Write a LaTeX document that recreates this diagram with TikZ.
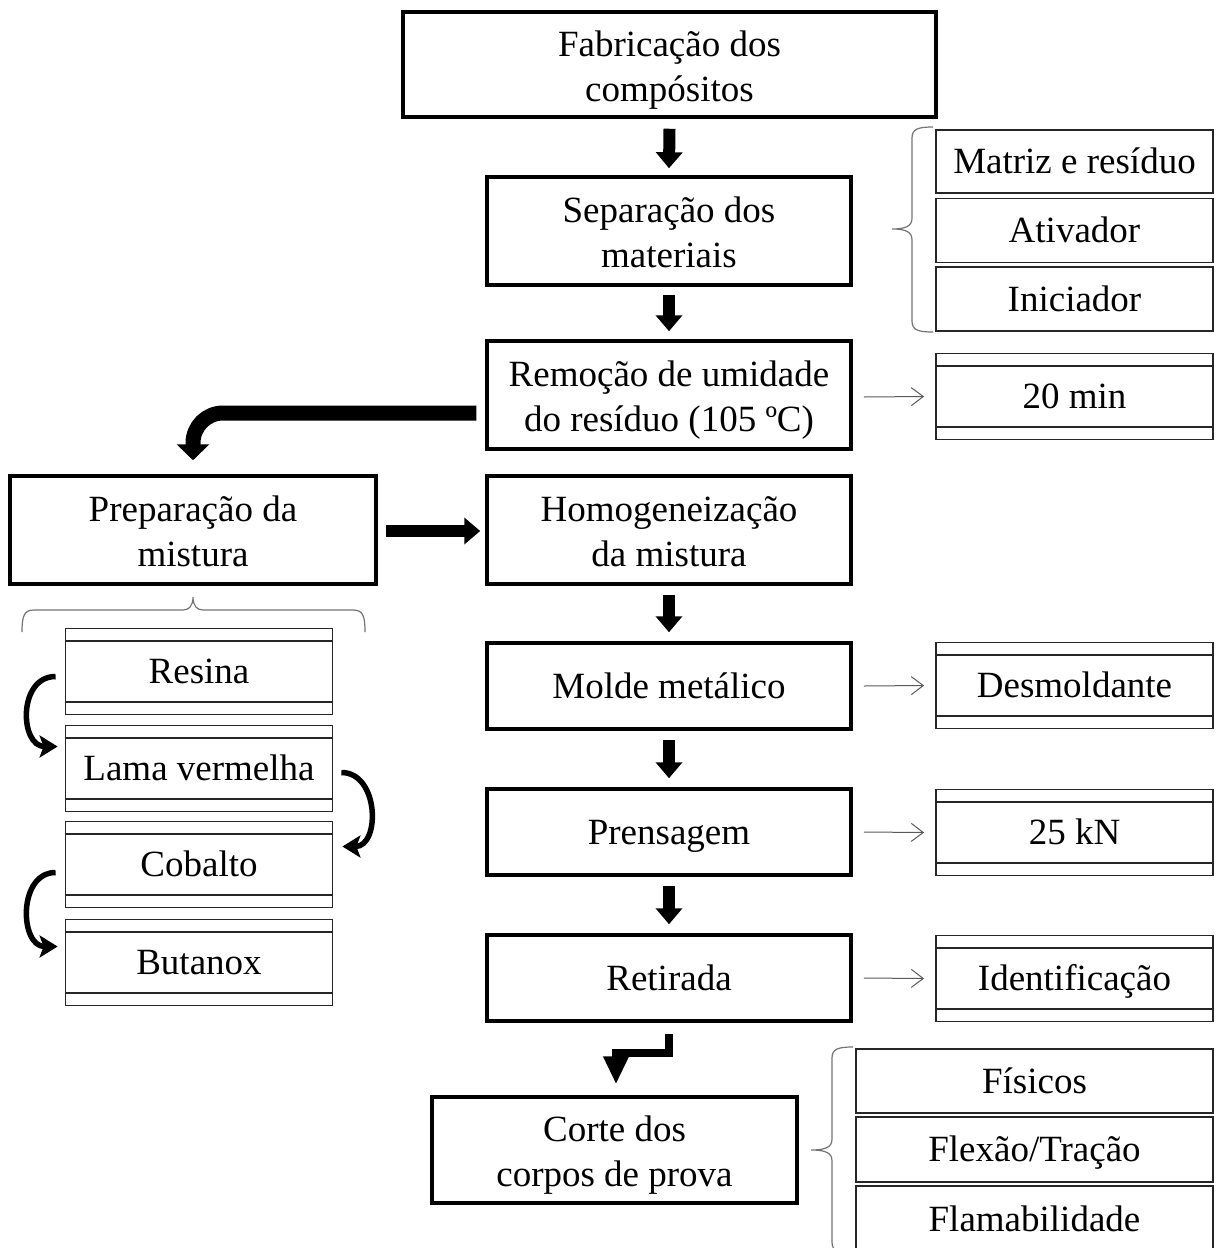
\documentclass[tikz,border=0pt]{standalone}
\usepackage{fontspec}
\setmainfont{Liberation Serif}
\usetikzlibrary{arrows.meta,calc}
\begin{document}
\begin{tikzpicture}[x=1pt,y=-1pt,
  txt/.style={font=\fontsize{37}{45}\selectfont},
  one/.style={text height=30pt,text depth=6pt},
  two/.style={text height=77pt,text depth=4pt},
  main/.style={txt,draw,line width=3.5pt,inner sep=0pt,align=center,minimum width=364pt,minimum height=108pt},
  item/.style={txt,one,draw=black!85,line width=1.8pt,inner sep=0pt,align=center,minimum width=277pt,minimum height=64pt},
  band/.style={txt,one,draw=black!85,line width=1.8pt,inner sep=0pt,align=center,minimum width=277pt,minimum height=86pt,
    path picture={
      \draw[black!85,line width=1.8pt] ([yshift=-12.5pt]path picture bounding box.north west) -- ([yshift=-12.5pt]path picture bounding box.north east);
      \draw[black!85,line width=1.8pt] ([yshift=12.5pt]path picture bounding box.south west) -- ([yshift=12.5pt]path picture bounding box.south east);
    }},
  blk/.style={line width=12pt,-{Triangle[width=26pt,length=16pt]}},
  thin/.style={draw=black!65,line width=1pt,-{Straight Barb[length=12pt,width=18pt]}},
  curv/.style={line width=5.5pt,-{Stealth[length=18pt,width=22pt,inset=4pt]}},
  brc/.style={draw=black!55,line width=1.2pt}
]
\useasboundingbox (0,0) rectangle (1216,1248);

% main column
\node[main,two,minimum width=533pt,minimum height=105pt] (fab) at (669.5,64.5) {Fabricação dos\\compósitos};
\node[main,two] (sep) at (669,231) {Separação dos\\materiais};
\node[main,two] (rem) at (669,395) {Remoção de umidade\\do resíduo (105 ºC)};
\node[main,two] (hom) at (669,530) {Homogeneização\\da mistura};
\node[main,one,minimum height=86pt] (mol) at (669,686) {Molde metálico};
\node[main,one,minimum height=86pt] (pre) at (669,832) {Prensagem};
\node[main,one,minimum height=86pt] (ret) at (669,978) {Retirada};
\node[main,two,minimum width=365pt,minimum height=106pt] (cor) at (614.5,1150) {Corte dos\\corpos de prova};
\node[main,two,minimum width=366pt] (prep) at (193,530) {Preparação da\\mistura};

% right items
\node[item,minimum height=63pt] (mat) at (1074.5,161.5) {Matriz e resíduo};
\node[item,minimum height=64pt] (ati) at (1074.5,230.5) {Ativador};
\node[item,minimum height=64pt] (ini) at (1074.5,299) {Iniciador};
\node[band] (min) at (1074.5,396.5) {20 min};
\node[band] (des) at (1074.5,685.5) {Desmoldante};
\node[band] (kn) at (1074.5,832.5) {25 kN};
\node[band] (ide) at (1074.5,978.5) {Identificação};

% left list
\node[band,minimum width=267pt] (res) at (199,671.5) {Resina};
\node[band,minimum width=267pt] (lam) at (199,768.5) {Lama vermelha};
\node[band,minimum width=267pt] (cob) at (199,864.5) {Cobalto};
\node[band,minimum width=267pt] (but) at (199,962.5) {Butanox};

% bottom right
\node[item,minimum width=357pt,minimum height=64pt] (fis) at (1034.5,1081) {Físicos};
\node[item,minimum width=357pt,minimum height=65pt] (flx) at (1034.5,1149.5) {Flexão/Tração};
\node[item,minimum width=357pt,minimum height=66pt] (fla) at (1034.5,1219) {Flamabilidade};

% block arrows
\draw[blk] ([yshift=-10pt]fab.south) -- ([yshift=7pt]sep.north);
\draw[blk] ([yshift=-8pt]sep.south) -- ([yshift=8pt]rem.north);
\draw[blk] ([yshift=-9pt]hom.south) -- ([yshift=9pt]mol.north);
\draw[blk] ([yshift=-9pt]mol.south) -- ([yshift=9pt]pre.north);
\draw[blk] ([yshift=-9pt]pre.south) -- ([yshift=9pt]ret.north);
\draw[blk] ([xshift=8pt,yshift=-1pt]prep.east) -- ([xshift=-5pt,yshift=-1pt]hom.west);
\draw[line width=15pt,rounded corners=30pt,-{Triangle[width=32pt,length=16pt]}]
  ([shift={(-9,18)}]rem.west) -| ([yshift=14pt]prep.north);
\draw[line width=8pt,-{Triangle[width=24pt,length=28pt]}]
  ([yshift=-11pt]ret.south) -- ++(0,19) -| ([shift={(1.5,-11)}]cor.north);

% thin arrows
\draw[thin] ([xshift=11pt,yshift=-2pt]rem.east) -- ([xshift=-11pt]min.west);
\draw[thin] ([xshift=11pt]mol.east) -- ([xshift=-11pt]des.west);
\draw[thin] ([xshift=11pt]pre.east) -- ([xshift=-11pt]kn.west);
\draw[thin] ([xshift=11pt]ret.east) -- ([xshift=-11pt]ide.west);

% curved arrows
\draw[curv] ([shift={(-9,5)}]res.west) .. controls +(-38,0) and +(-38,0) .. ([shift={(-7,-22)}]lam.west);
\draw[curv] ([shift={(8,4)}]lam.east) .. controls +(38,0) and +(38,0) .. ([shift={(9,-18)}]cob.east);
\draw[curv] ([shift={(-9,8)}]cob.west) .. controls +(-38,0) and +(-38,0) .. ([shift={(-7,-16)}]but.west);

% braces
\draw[brc] (933,127) .. controls (918,127) and (912,129) .. (912,138) -- (912,218)
  .. controls (912,226) and (906,229) .. (892,229) .. controls (906,229) and (912,232) .. (912,240)
  -- (912,321) .. controls (912,330) and (918,332) .. (933,332);
\draw[brc] (853,1047) .. controls (838,1047) and (832,1049) .. (832,1058) -- (832,1139)
  .. controls (832,1147) and (826,1150) .. (811,1150) .. controls (826,1150) and (832,1153) .. (832,1161)
  -- (832,1242) .. controls (832,1251) and (838,1253) .. (853,1253);
\draw[brc] (22,632) .. controls (22,616) and (24,610) .. (34,610) -- (183,610)
  .. controls (189,610) and (193,606) .. (193,597) .. controls (193,606) and (197,610) .. (203,610)
  -- (353,610) .. controls (363,610) and (365,616) .. (365,632);
\end{tikzpicture}
\end{document}
